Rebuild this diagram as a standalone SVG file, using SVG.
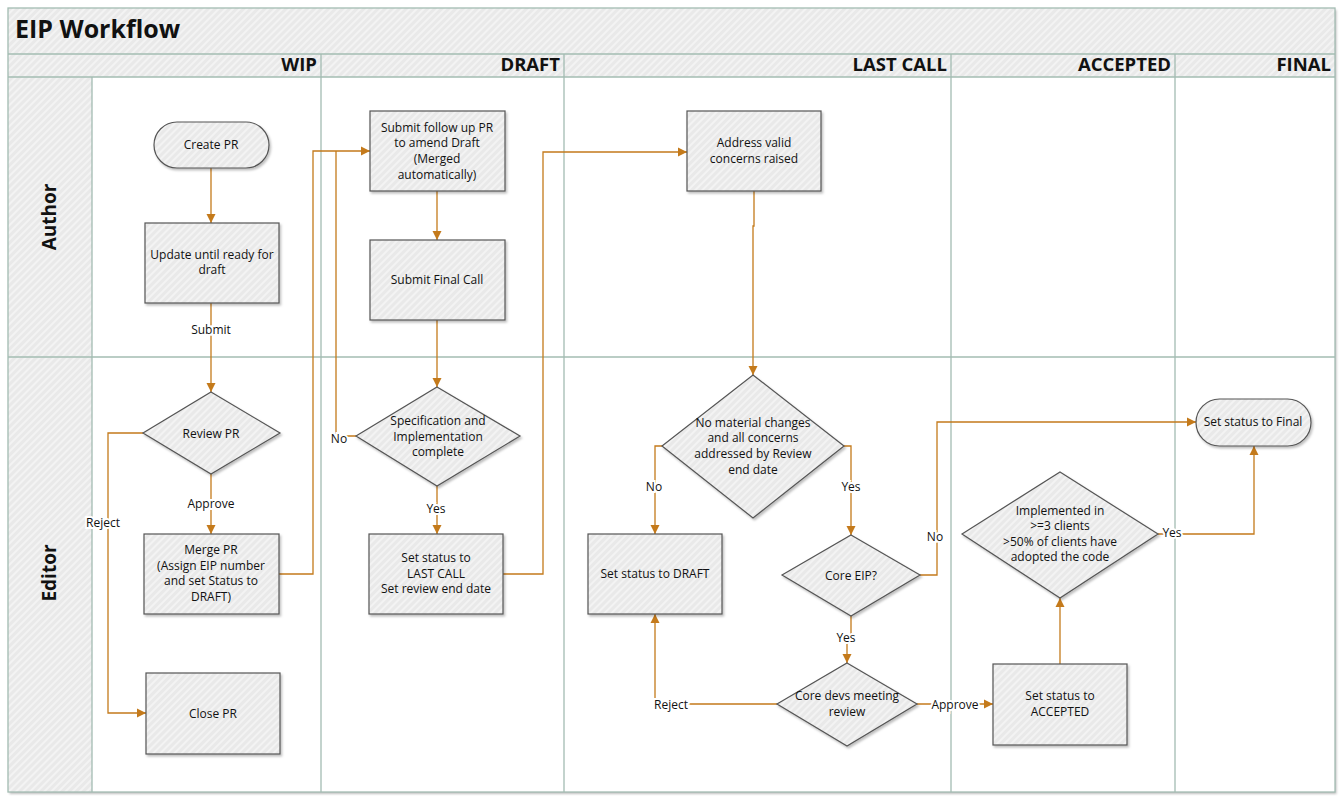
<svg xmlns="http://www.w3.org/2000/svg" width="1343" height="800" viewBox="0 0 1343 800">
<defs>
<pattern id="hatch" patternUnits="userSpaceOnUse" width="5" height="5" patternTransform="rotate(45)">
<rect width="5" height="5" fill="#e9e9e9"/>
<rect width="2" height="5" fill="#f3f3f3"/>
</pattern>
<filter id="sh" x="-10%" y="-10%" width="125%" height="130%">
<feDropShadow dx="1.5" dy="2" stdDeviation="1.2" flood-color="#000" flood-opacity="0.25"/>
</filter>
<marker id="arr" markerUnits="userSpaceOnUse" markerWidth="10" markerHeight="10" refX="9" refY="5" orient="auto">
<path d="M0,0.5 L9,5 L0,9.5 Z" fill="#c47a1b"/>
</marker>
<style>
.frame{fill:none;stroke:#a3bcb2;stroke-width:1.3}
.node{fill:url(#hatch);stroke:#555;stroke-width:1.2;filter:url(#sh)}
.t{font-family:"Open Sans","Noto Sans",sans-serif;font-size:12px;fill:#111;text-anchor:middle}
.lbl{font-family:"Open Sans","Noto Sans",sans-serif;font-size:12px;fill:#111;text-anchor:middle;paint-order:stroke;stroke:#fff;stroke-width:4px}
.hd{font-family:"Open Sans","Noto Sans",sans-serif;font-size:18.5px;font-weight:bold;fill:#111;text-anchor:end}
.ln{font-family:"Open Sans","Noto Sans",sans-serif;font-size:19px;font-weight:bold;fill:#111;text-anchor:middle}
.c{fill:none;stroke:#c47a1b;stroke-width:1.3}
</style>
</defs>
<rect width="1343" height="800" fill="#fff"/>
<g id="pool">
<rect x="8" y="8" width="1327" height="784" fill="#fff" filter="url(#sh)"/>
<rect x="8" y="8" width="1327" height="69" fill="url(#hatch)"/>
<rect x="8" y="77" width="84" height="715" fill="url(#hatch)"/>
<rect x="8" y="8" width="1327" height="784" class="frame"/>
<line x1="8" y1="54" x2="1335" y2="54" class="frame"/>
<line x1="8" y1="77" x2="1335" y2="77" class="frame"/>
<line x1="92" y1="77" x2="92" y2="792" class="frame"/>
<line x1="8" y1="357" x2="1335" y2="357" class="frame"/>
<line x1="321" y1="54" x2="321" y2="792" class="frame"/>
<line x1="564" y1="54" x2="564" y2="792" class="frame"/>
<line x1="951" y1="54" x2="951" y2="792" class="frame"/>
<line x1="1175" y1="54" x2="1175" y2="792" class="frame"/>
<text x="15" y="38" font-family="'Open Sans','Noto Sans',sans-serif" font-size="25" font-weight="bold" fill="#111">EIP Workflow</text>
<text x="317" y="71" class="hd">WIP</text>
<text x="560" y="71" class="hd">DRAFT</text>
<text x="947" y="71" class="hd">LAST CALL</text>
<text x="1171" y="71" class="hd">ACCEPTED</text>
<text x="1331" y="71" class="hd">FINAL</text>
<text transform="translate(56,217) rotate(-90)" class="ln">Author</text>
<text transform="translate(56,573) rotate(-90)" class="ln">Editor</text>
</g>
<g id="connectors">
<path class="c" d="M211,168 V223" marker-end="url(#arr)"/>
<path class="c" d="M211,303 V392" marker-end="url(#arr)"/>
<path class="c" d="M211,474 V534" marker-end="url(#arr)"/>
<path class="c" d="M143,433 H108 V713 H146" marker-end="url(#arr)"/>
<path class="c" d="M279,574 H313 V151 H370" marker-end="url(#arr)"/>
<path class="c" d="M356,436 H336 V151"/>
<path class="c" d="M437,191 V240" marker-end="url(#arr)"/>
<path class="c" d="M437,320 V387" marker-end="url(#arr)"/>
<path class="c" d="M437,486 V534" marker-end="url(#arr)"/>
<path class="c" d="M503,574 H543 V152 H687" marker-end="url(#arr)"/>
<path class="c" d="M754,191 V226 H753 V375" marker-end="url(#arr)"/>
<path class="c" d="M662,446 H655 V534" marker-end="url(#arr)"/>
<path class="c" d="M844,446 H851 V535" marker-end="url(#arr)"/>
<path class="c" d="M920,575 H937 V422 H1196" marker-end="url(#arr)"/>
<path class="c" d="M851,616 V640 H847 V663" marker-end="url(#arr)"/>
<path class="c" d="M777,704 H655 V614" marker-end="url(#arr)"/>
<path class="c" d="M917,704 H993" marker-end="url(#arr)"/>
<path class="c" d="M1060,664 V598" marker-end="url(#arr)"/>
<path class="c" d="M1158,534 H1254 V446" marker-end="url(#arr)"/>
<text x="211" y="334" class="lbl">Submit</text>
<text x="211" y="508" class="lbl">Approve</text>
<text x="103" y="527" class="lbl">Reject</text>
<text x="339" y="443" class="lbl">No</text>
<text x="436" y="513" class="lbl">Yes</text>
<text x="654" y="491" class="lbl">No</text>
<text x="851" y="491" class="lbl">Yes</text>
<text x="935" y="541" class="lbl">No</text>
<text x="846" y="642" class="lbl">Yes</text>
<text x="671" y="709" class="lbl">Reject</text>
<text x="955" y="709" class="lbl">Approve</text>
<text x="1172" y="537" class="lbl">Yes</text>
</g>
<g id="create-pr"><rect x="154" y="122" width="115" height="46" rx="23" class="node"/><text x="211" y="149" class="t">Create PR</text></g>
<g id="update-draft"><rect x="145" y="223" width="134" height="80" class="node"/><text class="t"><tspan x="212" y="259">Update until ready for</tspan><tspan x="212" y="274">draft</tspan></text></g>
<g id="review-pr"><polygon points="211,392 280,433 211,474 143,433" class="node"/><text x="211" y="438" class="t">Review PR</text></g>
<g id="merge-pr"><rect x="144" y="534" width="135" height="80" class="node"/><text class="t"><tspan x="211" y="554">Merge PR</tspan><tspan x="211" y="570">(Assign EIP number</tspan><tspan x="211" y="585">and set Status to</tspan><tspan x="211" y="601">DRAFT)</tspan></text></g>
<g id="close-pr"><rect x="146" y="673" width="134" height="81" class="node"/><text x="213" y="718" class="t">Close PR</text></g>
<g id="follow-up"><rect x="370" y="111" width="135" height="80" class="node"/><text class="t"><tspan x="437" y="132">Submit follow up PR</tspan><tspan x="437" y="147">to amend Draft</tspan><tspan x="437" y="163">(Merged</tspan><tspan x="437" y="179">automatically)</tspan></text></g>
<g id="final-call"><rect x="370" y="240" width="135" height="80" class="node"/><text x="437" y="284" class="t">Submit Final Call</text></g>
<g id="spec-complete"><polygon points="437,387 520,436 437,486 356,436" class="node"/><text class="t"><tspan x="438" y="425">Specification and</tspan><tspan x="438" y="441">Implementation</tspan><tspan x="438" y="456">complete</tspan></text></g>
<g id="set-last-call"><rect x="369" y="534" width="134" height="80" class="node"/><text class="t"><tspan x="436" y="562">Set status to</tspan><tspan x="436" y="578">LAST CALL</tspan><tspan x="436" y="593">Set review end date</tspan></text></g>
<g id="address-concerns"><rect x="687" y="111" width="134" height="80" class="node"/><text class="t"><tspan x="754" y="147">Address valid</tspan><tspan x="754" y="163">concerns raised</tspan></text></g>
<g id="no-changes"><polygon points="753,375 844,446 753,518 662,446" class="node"/><text class="t"><tspan x="753" y="427">No material changes</tspan><tspan x="753" y="442">and all concerns</tspan><tspan x="753" y="458">addressed by Review</tspan><tspan x="753" y="474">end date</tspan></text></g>
<g id="set-draft"><rect x="588" y="534" width="134" height="80" class="node"/><text x="655" y="578" class="t">Set status to DRAFT</text></g>
<g id="core-eip"><polygon points="851,535 920,575 851,616 782,575" class="node"/><text x="851" y="580" class="t">Core EIP?</text></g>
<g id="core-devs"><polygon points="847,663 917,704 847,746 777,704" class="node"/><text class="t"><tspan x="847" y="700">Core devs meeting</tspan><tspan x="847" y="716">review</tspan></text></g>
<g id="set-accepted"><rect x="993" y="664" width="134" height="81" class="node"/><text class="t"><tspan x="1060" y="700">Set status to</tspan><tspan x="1060" y="716">ACCEPTED</tspan></text></g>
<g id="implemented"><polygon points="1060,472 1158,534 1060,598 962,534" class="node"/><text class="t"><tspan x="1060" y="515">Implemented in</tspan><tspan x="1060" y="530">&gt;=3 clients</tspan><tspan x="1060" y="546">&gt;50% of clients have</tspan><tspan x="1060" y="561">adopted the code</tspan></text></g>
<g id="set-final"><rect x="1196" y="399" width="115" height="47" rx="23.5" class="node"/><text x="1253" y="426" class="t">Set status to Final</text></g>
</svg>
